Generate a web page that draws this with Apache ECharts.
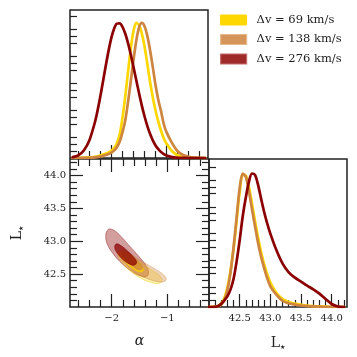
<!DOCTYPE html>
<html><head><meta charset="utf-8">
<script src="https://cdn.jsdelivr.net/npm/echarts@6/dist/echarts.min.js"></script>
<style>html,body{margin:0;padding:0;background:#fff}#c{width:357px;height:357px}</style>
</head><body><div id="c"></div>
<script>
// ---------- data ----------
const seriesNames = ['Δv = 69 km/s', 'Δv = 138 km/s', 'Δv = 276 km/s'];

// marginal of alpha (top-left)
const alphaX = [-2.7,-2.6,-2.5,-2.4,-2.3,-2.25,-2.2,-2.15,-2.1,-2.05,-2.0,-1.95,-1.9,-1.85,-1.8,-1.75,-1.7,-1.65,-1.6,-1.55,-1.5,-1.45,-1.4,-1.35,-1.3,-1.25,-1.2,-1.15,-1.1,-1.05,-1.0,-0.9,-0.8,-0.7,-0.6,-0.5,-0.4,-0.3];
const alphaGold = [0,0.001,0.002,0.004,0.009,0.013,0.018,0.025,0.033,0.042,0.055,0.075,0.11,0.175,0.295,0.452,0.633,0.807,0.94,1.0,0.984,0.923,0.827,0.70,0.565,0.45,0.35,0.27,0.20,0.145,0.105,0.05,0.02,0.008,0.003,0.001,0,0];
const alphaPeru = [0,0,0.001,0.002,0.005,0.008,0.011,0.016,0.022,0.03,0.04,0.055,0.08,0.12,0.19,0.276,0.41,0.565,0.725,0.867,0.965,1.0,0.976,0.906,0.80,0.673,0.539,0.43,0.345,0.25,0.19,0.11,0.05,0.022,0.009,0.003,0.001,0];
const alphaRed  = [0.0065,0.02,0.056,0.13,0.263,0.353,0.458,0.572,0.688,0.797,0.891,0.959,0.995,0.997,0.971,0.922,0.853,0.768,0.674,0.577,0.481,0.39,0.309,0.238,0.179,0.131,0.093,0.065,0.044,0.029,0.0185,0.007,0.002,0.0005,0,0,0,0];

// marginal of L* (bottom-right)
const lumX = [42.0,42.1,42.15,42.2,42.25,42.3,42.35,42.4,42.45,42.5,42.55,42.6,42.65,42.7,42.75,42.8,42.85,42.9,42.95,43.0,43.1,43.2,43.3,43.4,43.5,43.6,43.7,43.8,43.9,44.0,44.1,44.2];
const lumGold = [0,0.008,0.02,0.05,0.13,0.29,0.54,0.87,1.29,1.72,1.98,1.97,1.80,1.55,1.29,1.04,0.82,0.64,0.49,0.37,0.21,0.12,0.075,0.05,0.033,0.022,0.014,0.008,0.005,0.002,0,0];
const lumPeru = [0,0.005,0.012,0.035,0.10,0.25,0.51,0.89,1.34,1.78,2.0,1.95,1.74,1.47,1.21,0.96,0.75,0.58,0.43,0.31,0.18,0.09,0.055,0.035,0.022,0.014,0.009,0.005,0.003,0.001,0,0];
const lumRed  = [0,0.003,0.015,0.05,0.10,0.16,0.26,0.42,0.68,1.0,1.36,1.64,1.87,2.0,1.98,1.83,1.62,1.42,1.25,1.10,0.85,0.65,0.52,0.44,0.38,0.32,0.265,0.20,0.12,0.045,0.008,0];

// 2D contours (alpha, L*) vertices
const redOuter = [[-2.025,43.186],[-1.917,43.141],[-1.808,43.05],[-1.663,42.913],[-1.518,42.776],[-1.391,42.639],[-1.337,42.533],[-1.373,42.464],[-1.482,42.472],[-1.627,42.533],[-1.808,42.654],[-1.971,42.806],[-2.080,42.958],[-2.107,43.08],[-2.080,43.163]];
const redInner = [[-1.917,42.958],[-1.826,42.928],[-1.717,42.852],[-1.609,42.761],[-1.554,42.685],[-1.591,42.639],[-1.681,42.654],[-1.808,42.73],[-1.899,42.821],[-1.944,42.897]];
const peruOuter = [[-1.826,42.882],[-1.717,42.837],[-1.554,42.745],[-1.373,42.654],[-1.192,42.563],[-1.065,42.487],[-1.020,42.419],[-1.083,42.381],[-1.228,42.396],[-1.428,42.457],[-1.609,42.548],[-1.754,42.669],[-1.844,42.776],[-1.862,42.852]];
const peruInner = [[-1.790,42.852],[-1.699,42.821],[-1.591,42.745],[-1.482,42.654],[-1.446,42.593],[-1.500,42.563],[-1.609,42.609],[-1.717,42.685],[-1.790,42.761],[-1.817,42.821]];
const goldOuter = [[-1.844,42.852],[-1.736,42.821],[-1.572,42.730],[-1.391,42.624],[-1.228,42.533],[-1.120,42.457],[-1.101,42.388],[-1.174,42.358],[-1.319,42.381],[-1.482,42.441],[-1.645,42.533],[-1.790,42.654],[-1.871,42.761],[-1.880,42.821]];
const goldInner = [[-1.808,42.837],[-1.699,42.806],[-1.572,42.715],[-1.464,42.624],[-1.428,42.563],[-1.482,42.533],[-1.609,42.578],[-1.736,42.669],[-1.808,42.745],[-1.826,42.806]];

// ticks
const alphaMajor = [-2, -1];
const alphaMinor = [-2.6,-2.4,-2.2,-1.8,-1.6,-1.4,-1.2,-0.8,-0.6,-0.4];
const lumMajor = [42.5, 43.0, 43.5, 44.0];
const lumMinor = [42.1,42.2,42.3,42.4,42.6,42.7,42.8,42.9,43.1,43.2,43.3,43.4,43.6,43.7,43.8,43.9,44.1,44.2];
const densAlphaMinor = [0.05,0.1,0.15,0.25,0.3,0.35,0.45,0.5,0.55,0.65,0.7,0.75,0.85,0.9,0.95,1.05];
const densLumMinor = [0.1,0.2,0.3,0.5,0.6,0.7,0.9,1.0,1.1,1.3,1.4,1.5,1.7,1.8,1.9,2.1];

// ---------- chart ----------
const AX = [-2.75, -0.25], LM = [42.0, 44.25];
const SERIF = 'DejaVu Serif';
function ax(o) {
  const a = {
    type: 'value', gridIndex: o.g, position: o.pos, min: o.range[0], max: o.range[1],
    axisLine: { show: false }, splitLine: { show: false },
    axisTick: { show: true, inside: true, length: o.len, customValues: o.ticks,
      lineStyle: { color: '#222', width: 1.2 } },
    axisLabel: { show: false }
  };
  if (o.labels) {
    a.axisLabel = { show: true, customValues: o.ticks, formatter: o.fmt, fontFamily: SERIF,
      fontSize: 10, color: '#222', margin: o.margin };
  }
  if (o.name) {
    a.name = o.name; a.nameLocation = 'middle'; a.nameGap = o.nameGap;
    a.nameTextStyle = o.nameStyle;
  }
  return a;
}
const fmtA = v => (v < 0 ? '−' : '') + Math.abs(v).toString();
const fmtL = v => v.toFixed(1);
const lstarStyle = {
  rich: {
    l: { fontFamily: SERIF, fontSize: 14, color: '#222' },
    s: { fontFamily: 'DejaVu Sans', fontSize: 6, color: '#222', padding: [8, 0, 0, 0] }
  }
};

const xAxis = [
  ax({ g: 0, pos: 'bottom', range: AX, len: 13, ticks: alphaMajor }),
  ax({ g: 0, pos: 'bottom', range: AX, len: 7, ticks: alphaMinor }),
  ax({ g: 1, pos: 'bottom', range: AX, len: 13, ticks: alphaMajor, labels: true, fmt: fmtA, margin: 6,
       name: 'α', nameGap: 27, nameStyle: { fontFamily: SERIF, fontStyle: 'italic', fontSize: 14, color: '#222' } }),
  ax({ g: 1, pos: 'bottom', range: AX, len: 7, ticks: alphaMinor }),
  ax({ g: 1, pos: 'top', range: AX, len: 13, ticks: alphaMajor }),
  ax({ g: 1, pos: 'top', range: AX, len: 7, ticks: alphaMinor }),
  ax({ g: 2, pos: 'bottom', range: LM, len: 13, ticks: lumMajor, labels: true, fmt: fmtL, margin: 6,
       name: '{l|L}{s|★}', nameGap: 29, nameStyle: lstarStyle }),
  ax({ g: 2, pos: 'bottom', range: LM, len: 7, ticks: lumMinor })
];
const yAxis = [
  ax({ g: 0, pos: 'left', range: [0, 1.096], len: 7, ticks: densAlphaMinor }),
  ax({ g: 1, pos: 'left', range: LM, len: 13, ticks: lumMajor, labels: true, fmt: fmtL, margin: 4,
       name: '{l|L}{s|★}', nameGap: 46, nameStyle: lstarStyle }),
  ax({ g: 1, pos: 'left', range: LM, len: 7, ticks: lumMinor }),
  ax({ g: 1, pos: 'right', range: LM, len: 13, ticks: lumMajor }),
  ax({ g: 1, pos: 'right', range: LM, len: 7, ticks: lumMinor }),
  ax({ g: 2, pos: 'left', range: [0, 2.217], len: 7, ticks: densLumMinor })
];

const colors = ['#FFD700', '#CD853F', '#8B0000'];
function kde(name, xs, ys, color, xi, yi, z) {
  return { type: 'line', name: name, xAxisIndex: xi, yAxisIndex: yi, smooth: 0.3,
    showSymbol: false, data: xs.map((x, i) => [x, ys[i]]),
    lineStyle: { color: color, width: 2.7, join: 'round', cap: 'round' }, itemStyle: { color: color }, z: z, silent: true };
}
function contour(poly, fill, stroke, z) {
  return { type: 'custom', xAxisIndex: 2, yAxisIndex: 1, data: [0], silent: true, z: z,
    renderItem: (p, api) => ({ type: 'polygon',
      shape: { points: poly.map(q => api.coord(q)), smooth: 0.45 },
      style: { fill: fill, stroke: stroke, lineWidth: 0.8 } }) };
}

const series = [
  kde(seriesNames[0], alphaX, alphaGold, colors[0], 0, 0, 3),
  kde(seriesNames[1], alphaX, alphaPeru, colors[1], 0, 0, 4),
  kde(seriesNames[2], alphaX, alphaRed, colors[2], 0, 0, 5),
  kde('g2', lumX, lumGold, colors[0], 6, 5, 3),
  kde('p2', lumX, lumPeru, colors[1], 6, 5, 4),
  kde('r2', lumX, lumRed, colors[2], 6, 5, 5),
  contour(redOuter, 'rgba(139,0,0,0.38)', 'rgba(139,0,0,0.5)', 2),
  contour(goldOuter, 'rgba(255,215,0,0.3)', 'rgba(240,200,0,0.55)', 3),
  contour(peruOuter, 'rgba(205,133,63,0.35)', 'rgba(205,133,63,0.5)', 4),
  contour(goldInner, 'rgba(255,215,0,0.75)', 'rgba(240,200,0,0.9)', 5),
  contour(peruInner, 'rgba(205,133,63,0.75)', 'rgba(205,133,63,0.9)', 6),
  contour(redInner, 'rgba(139,0,0,0.72)', 'rgba(139,0,0,0.8)', 7)
];

const chart = echarts.init(document.getElementById('c'), null, { renderer: 'canvas' });
chart.setOption({
  animation: false,
  backgroundColor: '#fff',
  grid: [
    { left: 70, top: 10, width: 138, height: 148, show: true, borderColor: '#222', borderWidth: 1.5 },
    { left: 70, top: 159, width: 139, height: 148, show: true, borderColor: '#222', borderWidth: 1.5 },
    { left: 209, top: 159, width: 138, height: 148, show: true, borderColor: '#222', borderWidth: 1.5 }
  ],
  legend: {
    orient: 'vertical', left: 220, top: 13, padding: 0, itemWidth: 26, itemHeight: 10, itemGap: 5.5,
    selectedMode: false,
    textStyle: { fontFamily: SERIF, fontSize: 11.5, color: '#222', lineHeight: 14, padding: [0, 0, 0, 5] },
    data: [
      { name: seriesNames[0], icon: 'rect', itemStyle: { color: '#FFD700', borderColor: '#FFD700', borderWidth: 1 } },
      { name: seriesNames[1], icon: 'rect', itemStyle: { color: '#D4945A', borderColor: '#E6B88C', borderWidth: 1.2 } },
      { name: seriesNames[2], icon: 'rect', itemStyle: { color: '#9E2A2A', borderColor: '#C46A6A', borderWidth: 1.2 } }
    ]
  },
  xAxis: xAxis,
  yAxis: yAxis,
  series: series
});
</script></body></html>
